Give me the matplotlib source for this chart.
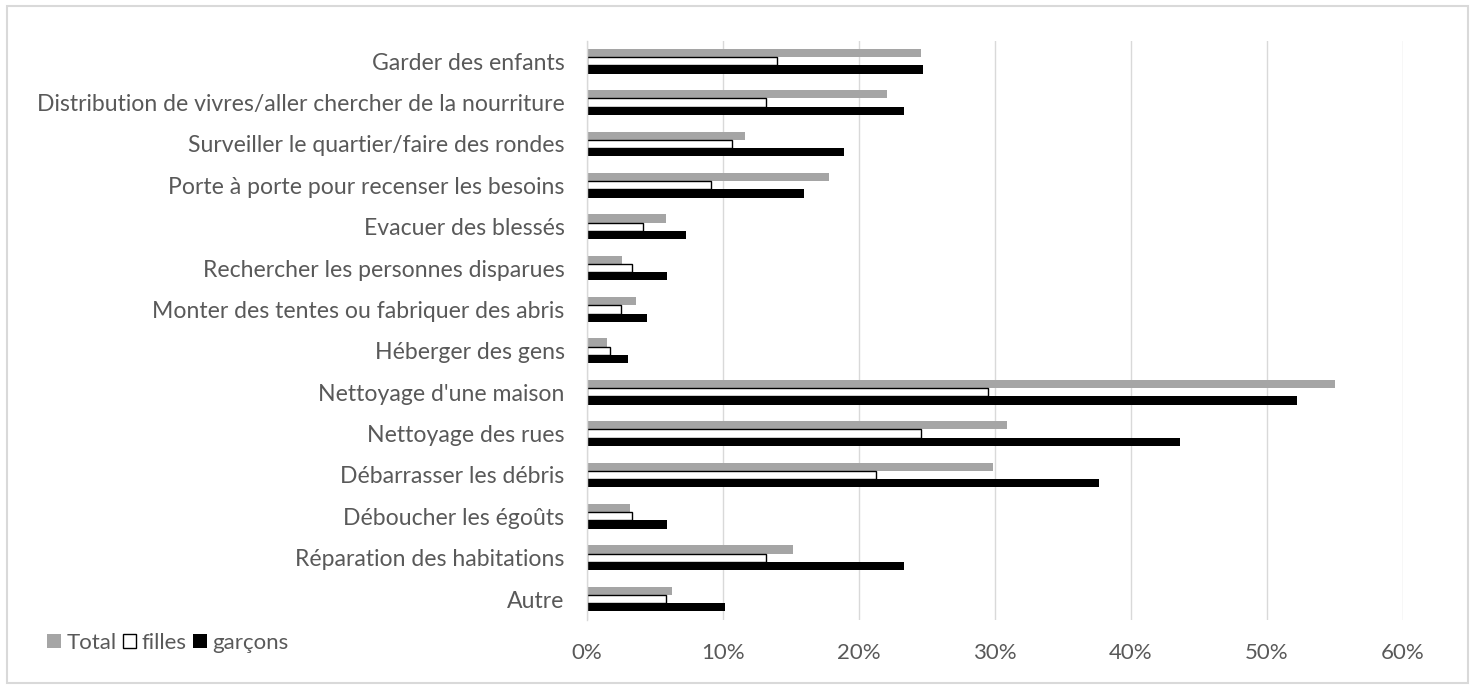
import numpy as np
import matplotlib
matplotlib.use('Agg')
import matplotlib.pyplot as plt
from matplotlib.ticker import PercentFormatter
from matplotlib.patches import Rectangle

plt.rcParams['font.family'] = ['Lato', 'DejaVu Sans']

categories = [
    "Garder des enfants",
    "Distribution de vivres/aller chercher de la nourriture",
    "Surveiller le quartier/faire des rondes",
    "Porte à porte pour recenser les besoins",
    "Evacuer des blessés",
    "Rechercher les personnes disparues",
    "Monter des tentes ou fabriquer des abris",
    "Héberger des gens",
    "Nettoyage d'une maison",
    "Nettoyage des rues",
    "Débarrasser les débris",
    "Déboucher les égoûts",
    "Réparation des habitations",
    "Autre",
]

# percentages
total = [24.6, 22.1, 11.6, 17.8, 5.8, 2.6, 3.6, 1.5, 55.0, 30.9, 29.9, 3.2, 15.2, 6.3]
filles = [14.0, 13.2, 10.7, 9.1, 4.1, 3.3, 2.5, 1.7, 29.5, 24.6, 21.3, 3.3, 13.2, 5.8]
garcons = [24.7, 23.3, 18.9, 16.0, 7.3, 5.9, 4.4, 3.0, 52.2, 43.6, 37.7, 5.9, 23.3, 10.2]

text_col = '#595959'
grid_col = '#D9D9D9'

fig = plt.figure(figsize=(14.75, 6.89), dpi=100)
ax = fig.add_axes([0.3978, 0.1006, 0.5532, 0.8405])

y = np.arange(len(categories))
h = 0.2
ax.barh(y - h, np.array(total) / 100, height=h, color='#A5A5A5', label='Total')
ax.barh(y, np.array(filles) / 100, height=h, color='white', edgecolor='black',
        linewidth=1.0, label='filles')
ax.barh(y + h, np.array(garcons) / 100, height=h, color='black', label='garçons')

ax.set_xlim(0, 0.6)
ax.set_ylim(len(categories) - 0.5, -0.5)
ax.set_xticks(np.arange(0, 0.61, 0.1))
ax.xaxis.set_major_formatter(PercentFormatter(1.0, decimals=0))
ax.set_yticks(y)
ax.set_yticklabels(categories)

ax.grid(axis='x', color=grid_col, linewidth=1.0)
ax.set_axisbelow(True)
for s in ['top', 'right', 'bottom']:
    ax.spines[s].set_visible(False)
ax.spines['left'].set_color(grid_col)
ax.spines['left'].set_linewidth(1.0)
ax.tick_params(axis='both', length=0, colors=text_col)
ax.tick_params(axis='x', pad=17, labelsize=16)
ax.tick_params(axis='y', pad=16, labelsize=16.6)

handles, labels = ax.get_legend_handles_labels()
leg = fig.legend(handles, labels, loc='center left', bbox_to_anchor=(0.026, 0.067),
                 ncol=3, frameon=False, fontsize=16, handlelength=0.6, handleheight=0.6,
                 handletextpad=0.25, columnspacing=0.3, borderaxespad=0)
for t in leg.get_texts():
    t.set_color(text_col)

# outer chart frame
fig.patches.append(Rectangle((0.0047, 0.0087), 0.9905, 0.9826, transform=fig.transFigure,
                             fill=False, edgecolor=grid_col, linewidth=1.5))

fig.savefig('out.png', dpi=100)
